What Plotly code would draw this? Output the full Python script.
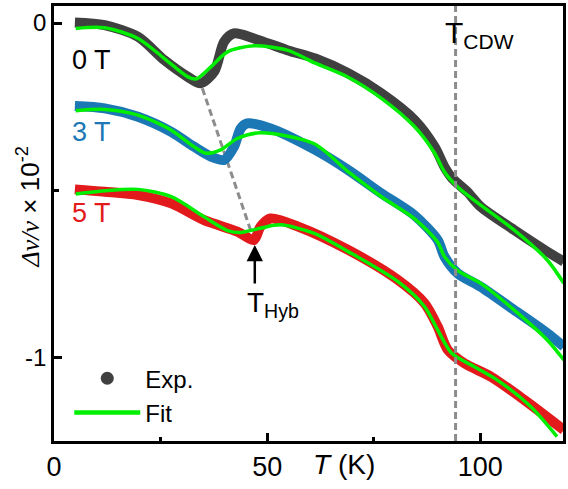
import plotly.graph_objects as go

# ---------------- data ----------------
x0_exp = [4.9, 11.9, 19.7, 25.9, 31.3, 34.4, 37.6, 39.9, 42.2, 46.9, 54.7, 61.3, 69.0, 76.8, 84.6, 89.3, 91.6, 93.5, 97.0, 100.1, 107.9, 115.7, 119.6]
y0_exp = [0.002, -0.006, -0.041, -0.111, -0.160, -0.180, -0.145, -0.056, -0.031, -0.046, -0.081, -0.106, -0.150, -0.210, -0.290, -0.370, -0.430, -0.465, -0.505, -0.549, -0.618, -0.683, -0.713]
x0_fit = [5.1, 11.9, 19.7, 25.9, 31.3, 33.3, 36.8, 40.7, 46.9, 54.7, 61.3, 69.0, 76.8, 84.6, 89.3, 91.6, 94.7, 97.0, 100.1, 107.9, 115.7, 119.6]
y0_fit = [-0.016, -0.014, -0.046, -0.106, -0.160, -0.167, -0.131, -0.086, -0.068, -0.081, -0.120, -0.162, -0.225, -0.310, -0.389, -0.445, -0.490, -0.514, -0.544, -0.618, -0.708, -0.778]

x3_exp = [4.9, 11.9, 19.7, 27.5, 32.9, 36.8, 39.9, 42.2, 43.8, 45.3, 50.8, 61.3, 69.0, 76.8, 84.6, 90.0, 91.6, 94.7, 100.1, 107.9, 115.7, 119.6]
y3_exp = [-0.248, -0.255, -0.280, -0.325, -0.370, -0.399, -0.409, -0.370, -0.315, -0.300, -0.315, -0.379, -0.439, -0.509, -0.575, -0.648, -0.698, -0.748, -0.788, -0.857, -0.927, -0.967]
x3_fit = [5.1, 11.9, 19.7, 27.5, 32.9, 35.6, 39.1, 43.0, 48.4, 60.9, 69.0, 76.8, 84.6, 90.0, 91.6, 94.7, 100.1, 107.9, 115.7, 119.6]
y3_fit = [-0.262, -0.258, -0.275, -0.320, -0.370, -0.389, -0.379, -0.345, -0.328, -0.360, -0.444, -0.519, -0.585, -0.655, -0.698, -0.740, -0.778, -0.857, -0.947, -1.007]

x5_exp = [4.9, 11.9, 19.7, 27.5, 35.2, 43.0, 46.9, 48.4, 50.8, 57.4, 69.0, 80.7, 86.9, 90.0, 92.4, 96.3, 102.5, 110.3, 119.6]
y5_exp = [-0.497, -0.504, -0.514, -0.539, -0.589, -0.623, -0.648, -0.609, -0.584, -0.609, -0.678, -0.768, -0.837, -0.907, -0.977, -1.017, -1.057, -1.126, -1.216]
x5_fit = [5.1, 11.9, 19.7, 27.5, 35.2, 40.7, 43.8, 48.4, 53.1, 60.9, 69.0, 80.7, 86.9, 90.0, 93.3, 98.6, 104.0, 111.8, 118.0]
y5_fit = [-0.511, -0.501, -0.497, -0.519, -0.579, -0.620, -0.626, -0.613, -0.603, -0.628, -0.683, -0.773, -0.847, -0.917, -0.987, -1.027, -1.067, -1.146, -1.236]

field_labels = ["0 T", "3 T", "5 T"]
label_y = [-0.111, -0.325, -0.568]
label_x = 3.7

t_cdw = 94.2
hyb_line_x = [34.8, 46.1]
hyb_line_y = [-0.195, -0.618]
t_hyb_x = 47.1
t_hyb_y = -0.663

x_ticks = [0, 50, 100]
y_ticks = [0, -1]

# ---------------- styles ----------------
GRAY = "#404040"
BLUE = "#1b78b4"
RED = "#e31a1c"
GREEN = "#00ee00"
FONT = "Liberation Sans, Arial, sans-serif"

fig = go.Figure()

# dashed guide lines
fig.add_trace(go.Scatter(x=hyb_line_x, y=hyb_line_y, mode="lines",
                         line=dict(color="#8c8c8c", width=3, dash="7px,4px"),
                         showlegend=False, hoverinfo="skip"))
fig.add_vline(x=t_cdw, line=dict(color="#8c8c8c", width=3, dash="7px,4px"))

for xs, ys, col in [(x0_exp, y0_exp, GRAY), (x3_exp, y3_exp, BLUE), (x5_exp, y5_exp, RED)]:
    fig.add_trace(go.Scatter(x=xs, y=ys, mode="lines",
                             line=dict(color=col, width=10, shape="spline", smoothing=0.8),
                             showlegend=False))
for xs, ys in [(x0_fit, y0_fit), (x3_fit, y3_fit), (x5_fit, y5_fit)]:
    fig.add_trace(go.Scatter(x=xs, y=ys, mode="lines",
                             line=dict(color=GREEN, width=3.5, shape="spline", smoothing=0.8),
                             showlegend=False))

# legend entries
fig.add_trace(go.Scatter(x=[None], y=[None], mode="markers", name="Exp.",
                         marker=dict(color=GRAY, size=13)))
fig.add_trace(go.Scatter(x=[None], y=[None], mode="lines", name="Fit",
                         line=dict(color=GREEN, width=4.5)))

# field labels
for txt, yy, col in zip(field_labels, label_y, ["#000000", BLUE, RED]):
    fig.add_annotation(x=label_x, y=yy, text=txt, showarrow=False, xanchor="left",
                       yanchor="middle", font=dict(size=27, color=col, family=FONT))

# T_CDW label
fig.add_annotation(x=t_cdw, y=0.051, yref="y", text="T<sub>CDW</sub>", showarrow=False,
                   xanchor="left", yanchor="top", xshift=-13, yshift=-8,
                   font=dict(size=30, color="#000000", family=FONT))

# T_Hyb arrow and label
fig.add_annotation(x=t_hyb_x, y=t_hyb_y, ax=0, ay=40, text="", showarrow=True,
                   arrowhead=2, arrowsize=1.3, arrowwidth=2.5, arrowcolor="#000000")
fig.add_annotation(x=t_hyb_x, y=t_hyb_y, text="T<sub>Hyb</sub>", showarrow=False,
                   xanchor="left", yanchor="top", xshift=-10, yshift=-40,
                   font=dict(size=28, color="#000000", family=FONT))

# axis titles
fig.add_annotation(xref="paper", yref="paper", x=-0.051, y=0.537, textangle=-90,
                   text="<span style='font-family:Liberation Serif'><i>Δν/ν</i></span> × 10<sup>-2</sup>",
                   showarrow=False, xanchor="center", yanchor="middle",
                   font=dict(size=26, color="#000000", family=FONT))
fig.add_annotation(xref="paper", yref="paper", x=0.570, y=-0.055,
                   text="<i>T</i> (K)", showarrow=False, xanchor="center", yanchor="middle",
                   font=dict(size=28, color="#000000", family=FONT))

axis_common = dict(showline=True, linecolor="#000000", linewidth=2.5, mirror=True,
                   ticks="inside", ticklen=8, tickwidth=2.5, tickcolor="#000000",
                   showgrid=False, zeroline=False)

fig.update_xaxes(range=[0, 119.4], tickvals=x_ticks, ticktext=[str(v) for v in x_ticks],
                 tickfont=dict(size=27, family=FONT, color="#000000"),
                 minor=dict(dtick=25, ticks="inside", ticklen=4, tickwidth=2.5, tickcolor="#000000"),
                 **axis_common)
fig.update_yaxes(range=[-1.249, 0.051], tickvals=y_ticks, ticktext=["0", "-1"],
                 tickfont=dict(size=24, family=FONT, color="#000000"),
                 minor=dict(dtick=0.5, ticks="inside", ticklen=5, tickwidth=2.5, tickcolor="#000000"),
                 **axis_common)

fig.update_layout(
    width=568, height=489,
    margin=dict(l=54, r=2, t=6, b=48),
    plot_bgcolor="#ffffff", paper_bgcolor="#ffffff",
    font=dict(family=FONT, color="#000000"),
    legend=dict(x=0.03, y=0.195, xanchor="left", yanchor="top", bgcolor="rgba(0,0,0,0)",
                font=dict(size=24, family=FONT), itemwidth=66, tracegroupgap=0),
)

fig.write_html("out.html", config={"responsive": False, "displayModeBar": False},
               post_script="document.body.style.margin='0';document.body.style.overflow='hidden';")
